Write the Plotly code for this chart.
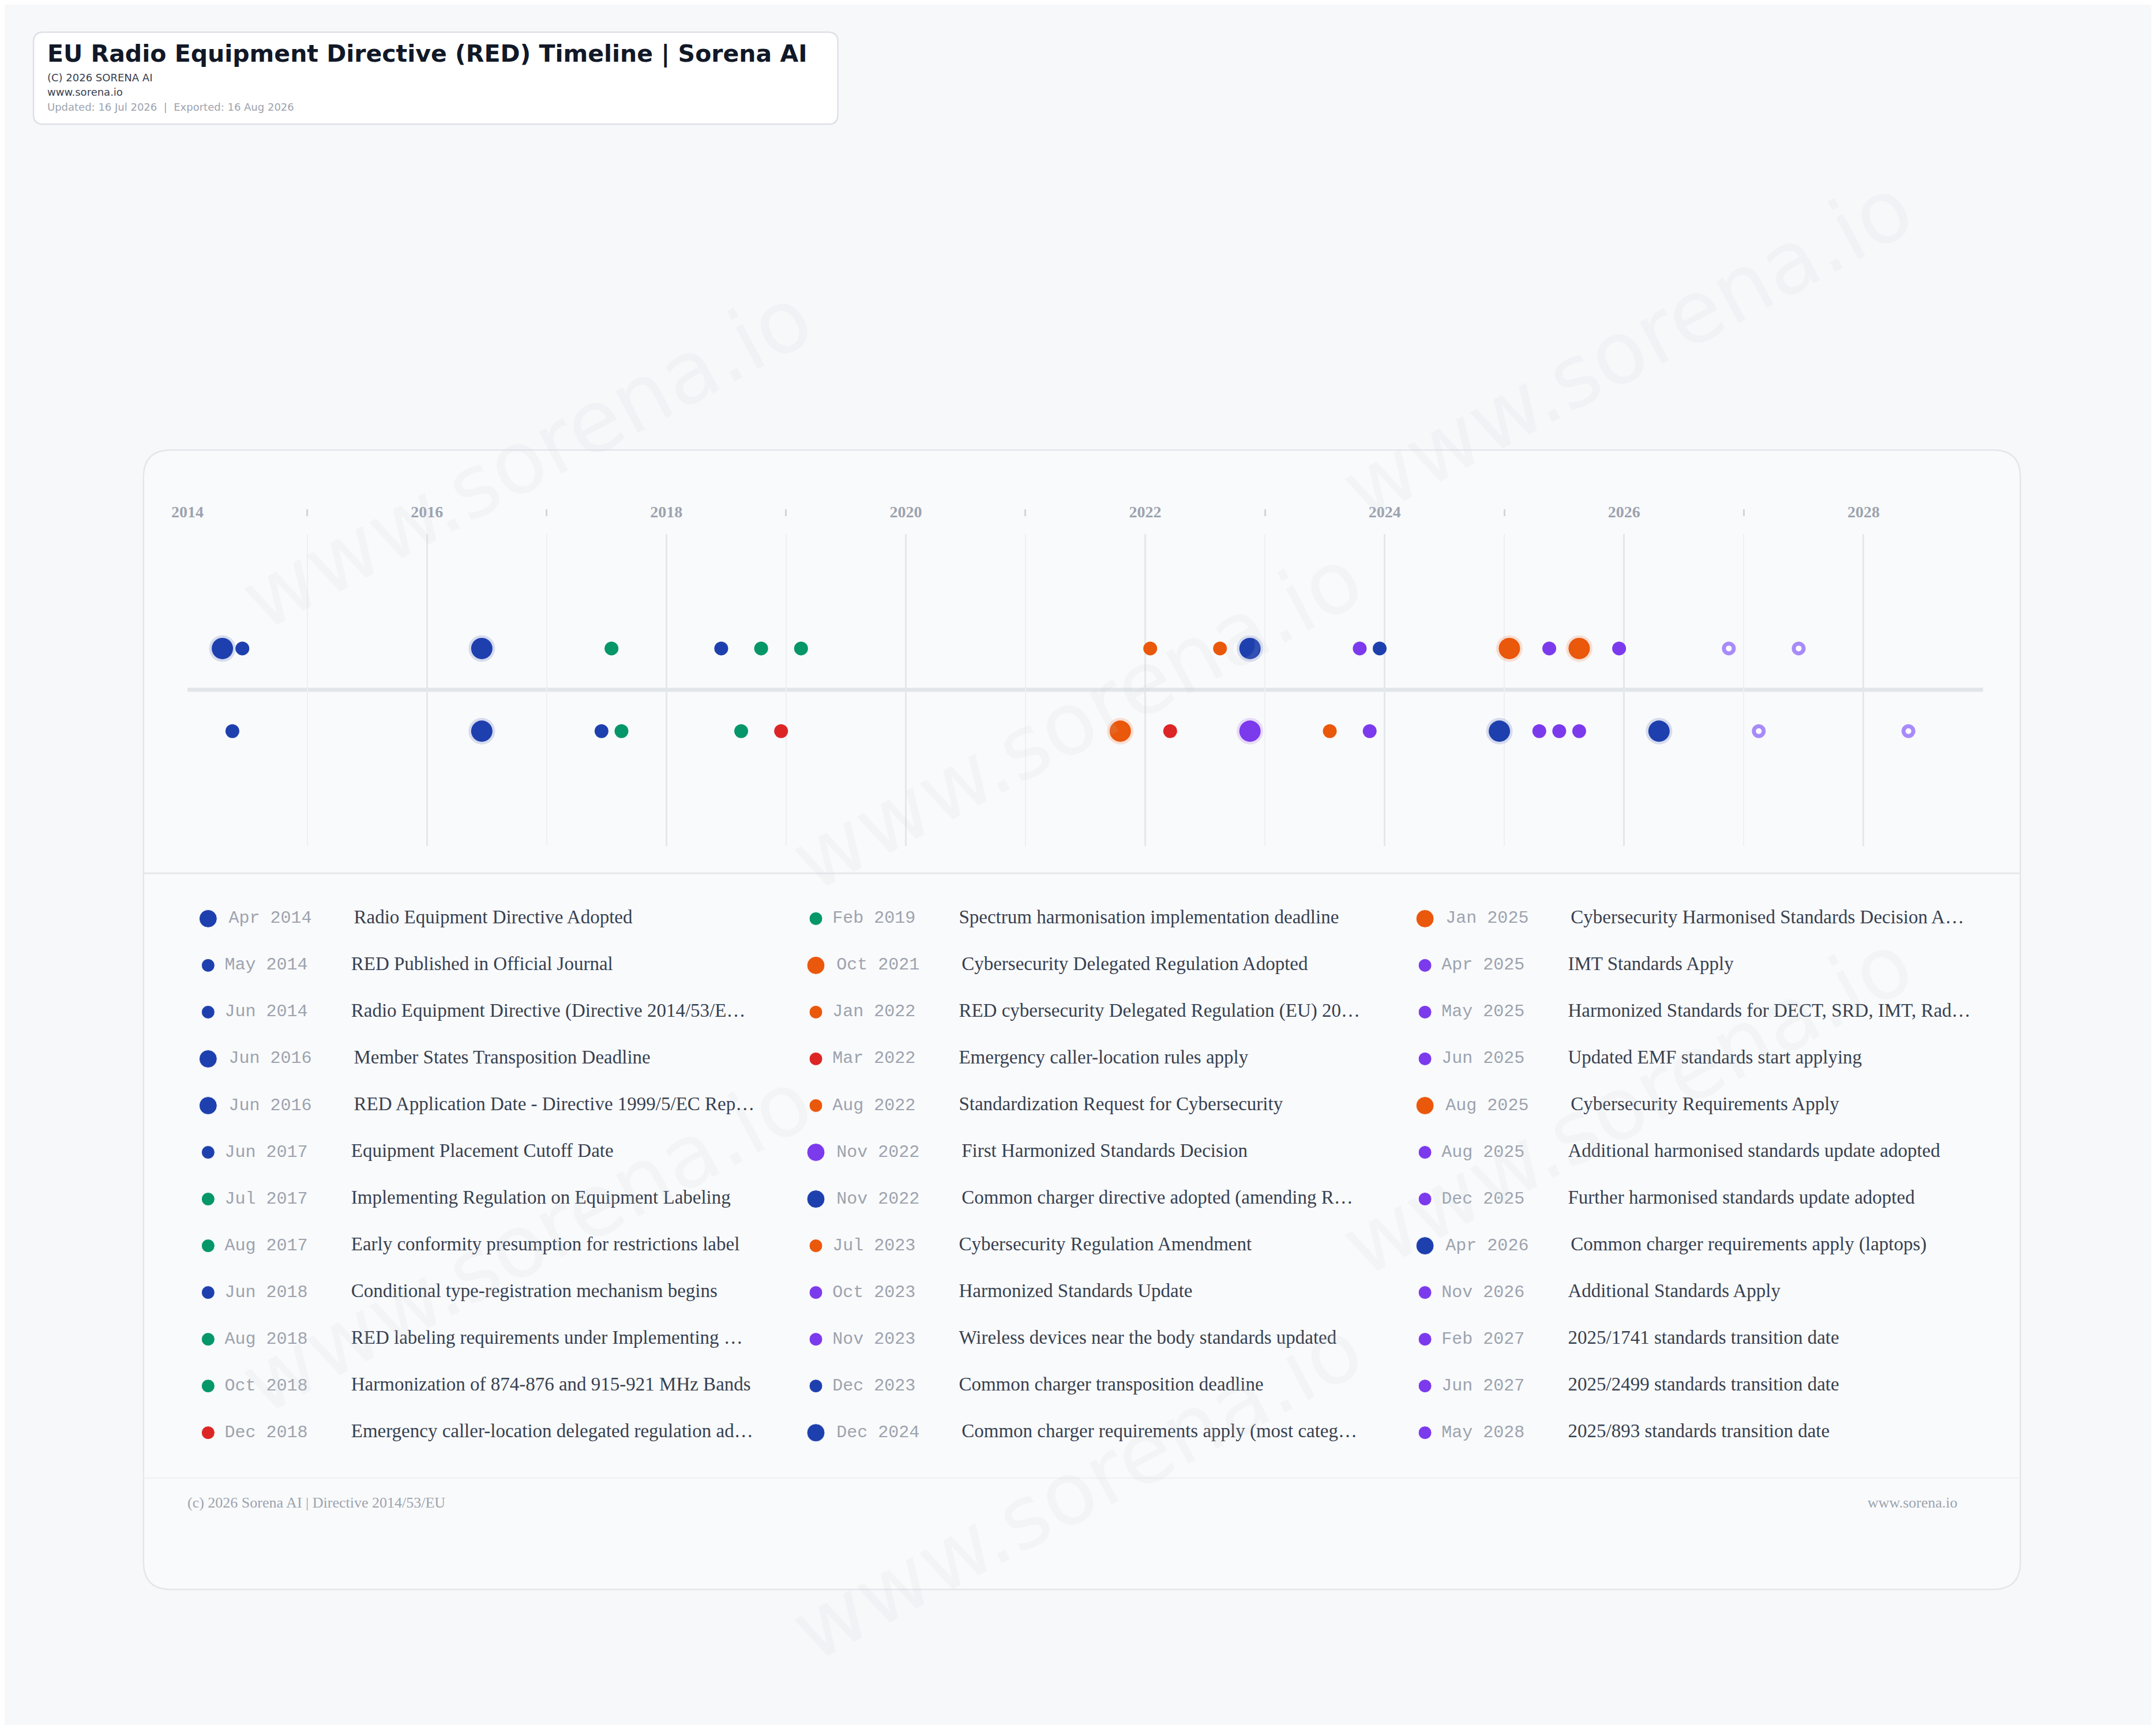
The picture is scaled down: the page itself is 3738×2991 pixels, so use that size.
import plotly.graph_objects as go

W, H = 3738, 2991

# ---------------- data ----------------
dates = ["Apr 2014","May 2014","Jun 2014","Jun 2016","Jun 2016","Jun 2017","Jul 2017","Aug 2017",
         "Jun 2018","Aug 2018","Oct 2018","Dec 2018","Feb 2019","Oct 2021","Jan 2022","Mar 2022",
         "Aug 2022","Nov 2022","Nov 2022","Jul 2023","Oct 2023","Nov 2023","Dec 2023","Dec 2024",
         "Jan 2025","Apr 2025","May 2025","Jun 2025","Aug 2025","Aug 2025","Dec 2025","Apr 2026",
         "Nov 2026","Feb 2027","Jun 2027","May 2028"]
labels = ["Radio Equipment Directive Adopted","RED Published in Official Journal",
          "Radio Equipment Directive (Directive 2014/53/E…","Member States Transposition Deadline",
          "RED Application Date - Directive 1999/5/EC Rep…","Equipment Placement Cutoff Date",
          "Implementing Regulation on Equipment Labeling","Early conformity presumption for restrictions label",
          "Conditional type-registration mechanism begins","RED labeling requirements under Implementing …",
          "Harmonization of 874-876 and 915-921 MHz Bands","Emergency caller-location delegated regulation ad…",
          "Spectrum harmonisation implementation deadline","Cybersecurity Delegated Regulation Adopted",
          "RED cybersecurity Delegated Regulation (EU) 20…","Emergency caller-location rules apply",
          "Standardization Request for Cybersecurity","First Harmonized Standards Decision",
          "Common charger directive adopted (amending R…","Cybersecurity Regulation Amendment",
          "Harmonized Standards Update","Wireless devices near the body standards updated",
          "Common charger transposition deadline","Common charger requirements apply (most categ…",
          "Cybersecurity Harmonised Standards Decision A…","IMT Standards Apply",
          "Harmonized Standards for DECT, SRD, IMT, Rad…","Updated EMF standards start applying",
          "Cybersecurity Requirements Apply","Additional harmonised standards update adopted",
          "Further harmonised standards update adopted","Common charger requirements apply (laptops)",
          "Additional Standards Apply","2025/1741 standards transition date",
          "2025/2499 standards transition date","2025/893 standards transition date"]
category = ["blue","blue","blue","blue","blue","blue","green","green",
            "blue","green","green","red","green","orange","orange","red",
            "orange","purple","blue","orange","purple","purple","blue","blue",
            "orange","purple","purple","purple","orange","purple","purple","blue",
            "future","future","future","future"]
major = [1,0,0,1,1,0,0,0, 0,0,0,0,0,1,0,0, 0,1,1,0,0,0,0,1, 1,0,0,0,1,0,0,1, 0,0,0,0]
row = [1,-1,1,1,-1,-1,1,-1, 1,-1,1,-1,1,-1,1,-1, 1,-1,1,-1,1,-1,1,-1, 1,-1,1,-1,1,-1,1,-1, 1,-1,1,-1]
year_ticks = [2014,2016,2018,2020,2022,2024,2026,2028]
minor_years = [2015,2017,2019,2021,2023,2025,2027]

COLORS = {"blue":"#1e40af","green":"#059669","orange":"#ea580c","red":"#dc2626",
          "purple":"#7c3aed","future":"#a78bfa"}
HALO = {"blue":"rgba(30,64,175,0.16)","orange":"rgba(234,88,12,0.16)","purple":"rgba(124,58,237,0.16)",
        "green":"rgba(5,150,105,0.16)","red":"rgba(220,38,38,0.16)","future":"rgba(167,139,250,0.2)"}
MON = {m:i for i,m in enumerate(["Jan","Feb","Mar","Apr","May","Jun","Jul","Aug","Sep","Oct","Nov","Dec"])}
def dec(d):
    m, y = d.split()
    return int(y) + (MON[m] + 0.5) / 12.0

xs = [dec(d) for d in dates]
ys = [0.265 * r for r in row]

fig = go.Figure()

# ---------------- timeline markers ----------------
for kind in ["small", "major", "future"]:
    idx = [i for i in range(len(dates))
           if (kind == "future" and category[i] == "future")
           or (kind == "major" and category[i] != "future" and major[i])
           or (kind == "small" and category[i] != "future" and not major[i])]
    if kind == "future":
        mk = dict(size=17, color="white", opacity=1, line=dict(color=COLORS["future"], width=7))
    elif kind == "major":
        mk = dict(size=37, opacity=1, color=[COLORS[category[i]] for i in idx],
                  line=dict(color=[HALO[category[i]] for i in idx], width=9))
    else:
        mk = dict(size=24, opacity=1, color=[COLORS[category[i]] for i in idx], line=dict(width=0))
    fig.add_trace(go.Scatter(x=[xs[i] for i in idx], y=[ys[i] for i in idx], mode="markers",
                             marker=mk, hoverinfo="text",
                             text=[f"{dates[i]}: {labels[i]}" for i in idx],
                             xaxis="x", yaxis="y", showlegend=False))

# ---------------- legend list (display coordinate axis x2/y2) ----------------
col_dot = [148, 590, 1033]
lx_dot, ly, ldate_x, llab_x, lsize, lcol = [], [], [], [], [], []
for i in range(len(dates)):
    c, r = divmod(i, 12)
    y = 665 + 34 * r
    big = major[i] == 1
    lx_dot.append(col_dot[c]); ly.append(y)
    ldate_x.append(col_dot[c] + (15 if big else 12))
    llab_x.append(col_dot[c] + (106 if big else 104))
    lsize.append(31 if big else 23)
    lcol.append(COLORS["purple"] if category[i] == "future" else COLORS[category[i]])

fig.add_trace(go.Scatter(x=lx_dot, y=ly, mode="markers", marker=dict(size=lsize, color=lcol, opacity=1),
                         xaxis="x2", yaxis="y2", showlegend=False, hoverinfo="skip"))
fig.add_trace(go.Scatter(x=ldate_x, y=ly, mode="text", text=dates, textposition="middle right",
                         textfont=dict(family="Liberation Mono", size=30, color="#9ca3af"),
                         xaxis="x2", yaxis="y2", showlegend=False, hoverinfo="skip"))
fig.add_trace(go.Scatter(x=llab_x, y=ly, mode="text", text=labels, textposition="middle right",
                         textfont=dict(family="Liberation Serif", size=33, color="#374151"),
                         xaxis="x2", yaxis="y2", showlegend=False, hoverinfo="skip"))
fig.add_trace(go.Scatter(x=minor_years, y=[0]*len(minor_years), xaxis="x3", yaxis="y", mode="markers",
                         marker=dict(opacity=0), showlegend=False, hoverinfo="skip"))

# ---------------- shapes (paper coordinates from display units) ----------------
def P(x, y):
    return x / 1568.0, 1 - y / 1255.0

def rrect(x0, y0, x1, y1, r):
    def pt(x, y):
        a, b = P(x, y)
        return f"{a:.5f},{b:.5f}"
    return (f"M{pt(x0+r,y0)} L{pt(x1-r,y0)} Q{pt(x1,y0)} {pt(x1,y0+r)} L{pt(x1,y1-r)} "
            f"Q{pt(x1,y1)} {pt(x1-r,y1)} L{pt(x0+r,y1)} Q{pt(x0,y1)} {pt(x0,y1-r)} "
            f"L{pt(x0,y0+r)} Q{pt(x0,y0)} {pt(x0+r,y0)} Z")

shapes = [
    dict(type="path", path=rrect(101, 324, 1466, 1153, 20), xref="paper", yref="paper",
         fillcolor="#f9fafb", line=dict(color="#e3e6eb", width=2.5), layer="below"),
    dict(type="path", path=rrect(21, 20, 606, 87, 7), xref="paper", yref="paper",
         fillcolor="#ffffff", line=dict(color="#dde1e6", width=2.5), layer="below"),
    dict(type="line", x0=P(101,0)[0], x1=P(1466,0)[0], y0=P(0,632)[1], y1=P(0,632)[1],
         xref="paper", yref="paper", line=dict(color="#e5e7eb", width=3), layer="below"),
    dict(type="line", x0=P(101,0)[0], x1=P(1466,0)[0], y0=P(0,1072)[1], y1=P(0,1072)[1],
         xref="paper", yref="paper", line=dict(color="#eef0f3", width=2), layer="below"),
    dict(type="line", x0=2014, x1=2029, y0=0, y1=0, xref="x", yref="y",
         line=dict(color="#e2e5ea", width=7), layer="below"),
]

# ---------------- annotations ----------------
ann = []
def t(x, y, s, size, color, family="DejaVu Sans", xanchor="left", bold=False):
    ann.append(dict(x=x, y=y, xref="x2", yref="y2", text=f"<b>{s}</b>" if bold else s,
                    showarrow=False, xanchor=xanchor, yanchor="middle",
                    font=dict(family=family, size=size, color=color)))
t(30, 36, "EU Radio Equipment Directive (RED) Timeline | Sorena AI", 41, "#111827", bold=True)
t(30, 53, "(C) 2026 SORENA AI", 18, "#374151")
t(30, 63.5, "www.sorena.io", 18, "#374151")
t(30, 74.5, "Updated: 16 Jul 2026  |  Exported: 16 Aug 2026", 18, "#9ca3af")
t(132, 1090, "(c) 2026 Sorena AI | Directive 2014/53/EU", 26, "#9ca3af", family="Liberation Serif")
t(1421, 1090, "www.sorena.io", 26, "#9ca3af", family="Liberation Serif", xanchor="right")

# faint watermark, kept inside the page
for (wx, wy) in [(380, 330), (1180, 250), (780, 520), (380, 900), (1180, 800), (780, 1080)]:
    ann.append(dict(x=wx, y=wy, xref="x2", yref="y2", text="www.sorena.io", showarrow=False,
                    textangle=-28, font=dict(family="DejaVu Sans", size=150,
                                             color="rgba(200,205,215,0.12)")))

fig.update_layout(
    width=W, height=H, margin=dict(l=0, r=0, t=0, b=0, pad=0, autoexpand=False),
    paper_bgcolor="#f7f8fa", plot_bgcolor="rgba(0,0,0,0)",
    shapes=shapes, annotations=ann,
    xaxis=dict(domain=[133/1568, 1439/1568], range=[2014, 2029], side="top", automargin=False,
               tickmode="array", tickvals=year_ticks, ticktext=[str(v) for v in year_ticks],
               tickfont=dict(family="Liberation Serif", size=28, color="#9ca3af", weight="bold"),
               ticks="", ticklabelstandoff=22, showline=False, zeroline=False,
               showgrid=True, gridcolor="#e4e7eb", gridwidth=3,
               minor=dict(tickvals=minor_years, showgrid=True, gridcolor="#eef0f3", gridwidth=2),
               fixedrange=True),
    yaxis=dict(domain=[1-612/1255, 1-385/1255], range=[-1, 1], visible=False, fixedrange=True,
               automargin=False),
    xaxis3=dict(overlaying="x", range=[2014, 2029], anchor="free", position=1-372/1255, side="top",
                tickmode="array", tickvals=minor_years, automargin=False,
                ticks="outside", ticklen=12, tickwidth=3, tickcolor="#d1d5db",
                showticklabels=False, showgrid=False, showline=False, zeroline=False, fixedrange=True),
    xaxis2=dict(domain=[0, 1], range=[0, 1568], visible=False, fixedrange=True, anchor="y2",
                automargin=False),
    yaxis2=dict(domain=[0, 1], range=[1255, 0], visible=False, fixedrange=True, anchor="x2",
                automargin=False),
)
fig.write_html("out.html")
